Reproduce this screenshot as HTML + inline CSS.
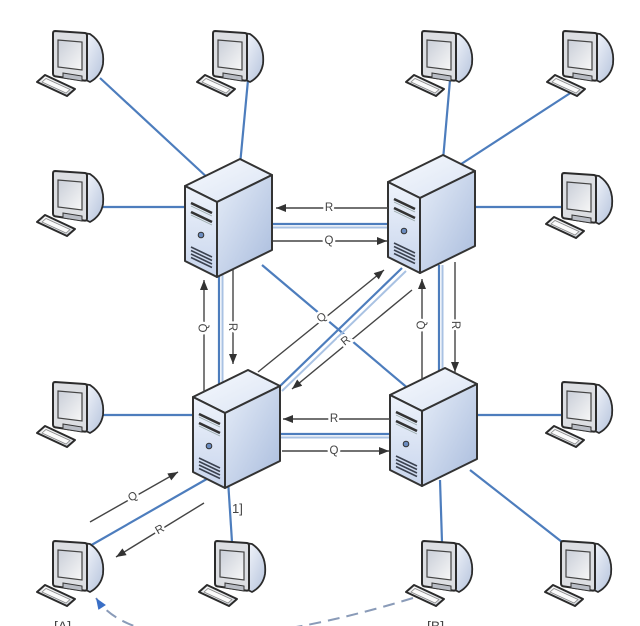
<!DOCTYPE html>
<html><head><meta charset="utf-8">
<style>html,body{margin:0;padding:0;background:#fff;}svg{display:block}</style>
</head>
<body>
<svg width="640" height="626" viewBox="0 0 640 626" xmlns="http://www.w3.org/2000/svg" font-family="'Liberation Sans', sans-serif">
<defs>
  <linearGradient id="gTop" x1="0" y1="0" x2="1" y2="1">
    <stop offset="0" stop-color="#f6f9fd"/><stop offset="1" stop-color="#dbe4f4"/>
  </linearGradient>
  <linearGradient id="gFront" x1="0" y1="0" x2="0" y2="1">
    <stop offset="0" stop-color="#eef3fb"/><stop offset="1" stop-color="#c8d5ed"/>
  </linearGradient>
  <linearGradient id="gSide" x1="0" y1="0" x2="1" y2="1">
    <stop offset="0" stop-color="#e6edf8"/><stop offset="1" stop-color="#a9bcdd"/>
  </linearGradient>
  <linearGradient id="gBack" x1="0" y1="0" x2="1" y2="1">
    <stop offset="0" stop-color="#f7f9fd"/><stop offset="1" stop-color="#b5c3dc"/>
  </linearGradient>
  <linearGradient id="gScreen" x1="0" y1="0" x2="1" y2="1">
    <stop offset="0" stop-color="#c9ced8"/><stop offset="1" stop-color="#f7f7f7"/>
  </linearGradient>
  <linearGradient id="gKey" x1="0" y1="0" x2="0" y2="1">
    <stop offset="0" stop-color="#f8f8f8"/><stop offset="1" stop-color="#d4d8de"/>
  </linearGradient>
  <marker id="ah" viewBox="0 0 10 8" refX="10" refY="4" markerWidth="11" markerHeight="8" markerUnits="userSpaceOnUse" orient="auto">
    <path d="M0 0 L10 4 L0 8 Z" fill="#333"/>
  </marker>
  <marker id="ahb" viewBox="0 0 10 8" refX="10" refY="4" markerWidth="12" markerHeight="9" markerUnits="userSpaceOnUse" orient="auto">
    <path d="M0 0 L10 4 L0 8 Z" fill="#3a6fc6"/>
  </marker>

  <g id="pc">
    <path d="M30 3 L37 4 Q52 14 50 34 Q48 46 37 52 L33 50 Z" fill="url(#gBack)" stroke="#2b2b2b" stroke-width="1.8" stroke-linejoin="round"/>
    <path d="M2 1 L32 3 Q34 3.2 34 5.5 L34 48.5 Q34 51 31.5 50.6 L2.5 46.4 Q0 46 0 43.5 L0 3.5 Q0 1 2 1 Z" fill="#dcdee2" stroke="#2b2b2b" stroke-width="2"/>
    <path d="M5 10 L29 12 L29 40 L5 37 Z" fill="url(#gScreen)" stroke="#444" stroke-width="1.2"/>
    <path d="M10 43 L29 46 L29 51 L10 48 Z" fill="#b9bdc5" stroke="#333" stroke-width="1"/>
    <path d="M-16 52 L-8 45 L22 59 L14 66 Z" fill="url(#gKey)" stroke="#2b2b2b" stroke-width="2" stroke-linejoin="round"/>
    <path d="M-11 52 L-7 48.5 L17 59.5 L13 63 Z" fill="#fbfbfb" stroke="#888" stroke-width="0.8"/>
  </g>

  <g id="srv">
    <path d="M0 27 L55 0 L87 16 L32 43 Z" fill="url(#gTop)" stroke="#333" stroke-width="2" stroke-linejoin="round"/>
    <path d="M0 27 L32 43 L32 118 L0 102 Z" fill="url(#gFront)" stroke="#333" stroke-width="2" stroke-linejoin="round"/>
    <path d="M32 43 L87 16 L87 91 L32 118 Z" fill="url(#gSide)" stroke="#333" stroke-width="2" stroke-linejoin="round"/>
    <path d="M6 44 L27 54" stroke="#333" stroke-width="2.6"/>
    <path d="M6 47 L27 57" stroke="#9aa" stroke-width="0.8"/>
    <path d="M6 53 L27 63" stroke="#333" stroke-width="2.6"/>
    <path d="M6 56 L27 66" stroke="#9aa" stroke-width="0.8"/>
    <circle cx="16" cy="76" r="2.8" fill="#6b8cc0" stroke="#333" stroke-width="1"/>
    <path d="M6 88 L27 98 M6 91.5 L27 101.5 M6 95 L27 105 M6 98.5 L27 108.5" stroke="#3b4250" stroke-width="1.6"/>
  </g>
</defs>

<!-- blue network links: workstations to servers -->
<g stroke="#4d7dbd" stroke-width="2.2" fill="none">
  <line x1="100" y1="78" x2="210" y2="180"/>
  <line x1="248" y1="80" x2="240" y2="165"/>
  <line x1="100" y1="207" x2="192" y2="207"/>
  <line x1="450" y1="80" x2="443" y2="160"/>
  <line x1="575" y1="90" x2="455" y2="168"/>
  <line x1="470" y1="207" x2="566" y2="207"/>
  <line x1="100" y1="415" x2="200" y2="415"/>
  <line x1="470" y1="415" x2="566" y2="415"/>
  <line x1="88" y1="547" x2="212" y2="476"/>
  <line x1="232" y1="542" x2="228" y2="480"/>
  <line x1="442" y1="542" x2="440" y2="480"/>
  <line x1="562" y1="542" x2="470" y2="470"/>
  <!-- server-server -->
  <line x1="265" y1="224" x2="395" y2="224"/>
  <line x1="275" y1="434" x2="395" y2="434"/>
  <line x1="219" y1="265" x2="219" y2="390"/>
  <line x1="439" y1="265" x2="439" y2="385"/>
  <line x1="278" y1="388" x2="402" y2="268"/>
  <line x1="262" y1="265" x2="410" y2="390"/>
</g>
<g stroke="#a9c2e3" stroke-width="2" fill="none">
  <line x1="265" y1="227.5" x2="395" y2="227.5"/>
  <line x1="275" y1="437.5" x2="395" y2="437.5"/>
  <line x1="222.5" y1="265" x2="222.5" y2="390"/>
  <line x1="442.5" y1="265" x2="442.5" y2="385"/>
  <line x1="282" y1="391" x2="406" y2="271"/>
</g>

<!-- servers -->
<use href="#srv" x="185" y="159"/>
<use href="#srv" x="388" y="155"/>
<use href="#srv" x="193" y="370"/>
<use href="#srv" x="390" y="368"/>

<!-- workstations -->
<use href="#pc" x="53" y="30"/>
<use href="#pc" x="213" y="30"/>
<use href="#pc" x="422" y="30"/>
<use href="#pc" x="563" y="30"/>
<use href="#pc" x="53" y="170"/>
<use href="#pc" x="562" y="172"/>
<use href="#pc" x="53" y="381"/>
<use href="#pc" x="562" y="381"/>
<use href="#pc" x="53" y="540"/>
<use href="#pc" x="215" y="540"/>
<use href="#pc" x="422" y="540"/>
<use href="#pc" x="561" y="540"/>

<!-- gray Q / R arrows -->
<g stroke="#444" stroke-width="1.4" fill="none" marker-end="url(#ah)">
  <line x1="388" y1="208" x2="276" y2="208"/>
  <line x1="273" y1="241" x2="387" y2="241"/>
  <line x1="390" y1="419" x2="283" y2="419"/>
  <line x1="282" y1="451" x2="389" y2="451"/>
  <line x1="204" y1="392" x2="204" y2="280"/>
  <line x1="233" y1="270" x2="233" y2="364"/>
  <line x1="422" y1="380" x2="422" y2="279"/>
  <line x1="455" y1="262" x2="455" y2="372"/>
  <line x1="258" y1="372" x2="384" y2="270"/>
  <line x1="412" y1="290" x2="292" y2="389"/>
  <line x1="90" y1="522" x2="178" y2="472"/>
  <line x1="204" y1="503" x2="116" y2="557"/>
</g>

<!-- labels on arrows -->
<g font-size="11.5" fill="#444" text-anchor="middle" dominant-baseline="central" stroke="#fff" stroke-width="5" paint-order="stroke">
  <text x="329" y="208">R</text>
  <text x="329" y="241">Q</text>
  <text x="334" y="419">R</text>
  <text x="334" y="451">Q</text>
  <text x="204" y="328" transform="rotate(-90 204 328)">Q</text>
  <text x="232" y="327" transform="rotate(90 232 327)">R</text>
  <text x="422" y="325" transform="rotate(-90 422 325)">Q</text>
  <text x="455" y="325" transform="rotate(90 455 325)">R</text>
  <text x="322" y="318" transform="rotate(-39 322 318)">Q</text>
  <text x="346" y="341" transform="rotate(-39 346 341)">R</text>
  <text x="133" y="497" transform="rotate(-30 133 497)">Q</text>
  <text x="160" y="530" transform="rotate(-30 160 530)">R</text>
</g>

<!-- dashed request path B -> A -->
<path d="M413 598 C250 648 130 650 96 598" fill="none" stroke="#8a9bb8" stroke-width="2" stroke-dasharray="12 7" marker-end="url(#ahb)"/>

<!-- other labels -->
<g font-size="14" fill="#444">
  <text x="232" y="513" font-size="13">1]</text>
  <text x="54" y="631">[A]</text>
  <text x="427" y="631">[B]</text>
</g>
</svg>
</body></html>
